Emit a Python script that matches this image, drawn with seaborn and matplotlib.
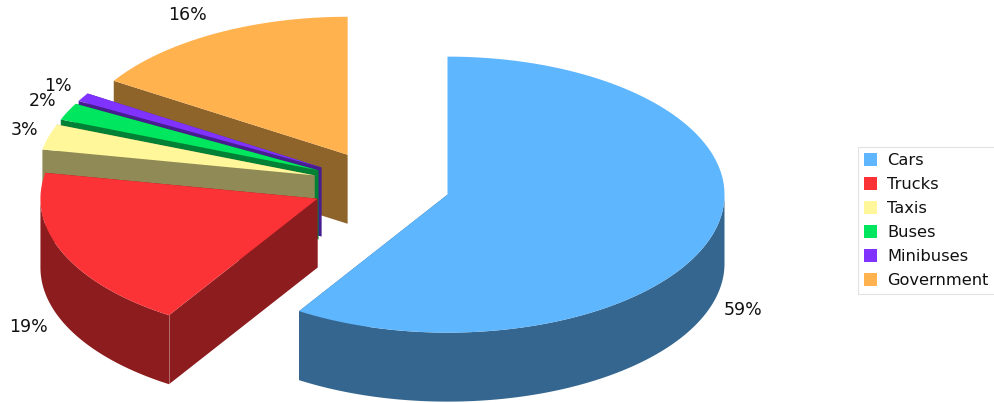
import numpy as np
import seaborn as sns
import matplotlib
matplotlib.use("Agg")
import matplotlib.pyplot as plt
from matplotlib.patches import Patch

# Fleet share by vehicle type
categories = ["Cars", "Trucks", "Taxis", "Buses", "Minibuses", "Government"]
shares = [59, 19, 3, 2, 1, 16]
top_hex = ["#5EB6FF", "#FB3236", "#FFF799", "#00E65E", "#8033FF", "#FFB24D"]

# Pie layout in canvas pixels
CENTER = (381.0, 185.0)
RX, RY = 277.0, 138.0
DEPTH = 69.0
EXPLODE = 0.25
SHADE = 0.56
LABEL_RADIUS = 1.12
# Small shifts that keep the crowded percentage labels apart
label_nudges = [(-2, 3), (-4, -2), (8, 2), (5, 0), (4, 1), (-11, 0)]

sns.set_theme(style="white", font="DejaVu Sans")
palette = sns.color_palette(top_hex)

fig = plt.figure(figsize=(9.95, 4.03), dpi=100)
ax = fig.add_axes([0, 0, 1, 1])
ax.set_xlim(0, 995)
ax.set_ylim(403, 0)
ax.axis("off")


def rim(tip, deg):
    """Point on a wedge's rim; angles run clockwise from twelve o'clock."""
    t = np.radians(deg)
    return tip[0] + RX * np.sin(t), tip[1] - RY * np.cos(t)


def wall(xa, ya, xb, yb, color, z):
    xs = [xa, xb, xb, xa]
    ys = [ya, yb, yb + DEPTH, ya + DEPTH]
    ax.fill(xs, ys, color=color, lw=0, zorder=z)


ends = np.cumsum(shares) / np.sum(shares) * 360.0
starts = np.concatenate([[0.0], ends[:-1]])

# Later wedges sit behind the earlier ones, so paint from the last to the first
for i in range(len(shares) - 1, -1, -1):
    a0, a1 = starts[i], ends[i]
    mid = np.radians((a0 + a1) / 2)
    tip = (CENTER[0] + EXPLODE * RX * np.sin(mid),
           CENTER[1] - EXPLODE * RY * np.cos(mid))
    top = palette[i]
    side = tuple(np.array(top) * SHADE)
    z = 10 + (len(shares) - i) * 3

    # Radial side walls
    for a in (a0, a1):
        wall(tip[0], tip[1], *rim(tip, a), side, z)

    # Curved outer wall, only where it faces the viewer
    lo, hi = max(a0, 90.0), min(a1, 270.0)
    if hi > lo:
        arc = np.linspace(lo, hi, 160)
        ax_, ay_ = rim(tip, arc)
        ax.fill(np.r_[ax_, ax_[::-1]], np.r_[ay_, ay_[::-1] + DEPTH],
                color=side, lw=0, zorder=z)

    # Faint seam where a visible radial wall meets the curved wall
    if 90.0 < a0 < 270.0:
        sx, sy = rim(tip, a0)
        ax.plot([sx, sx], [sy, sy + DEPTH], color="white", alpha=0.35,
                lw=0.7, zorder=z)

    # Top face
    arc = np.linspace(a0, a1, 240)
    tx, ty = rim(tip, arc)
    ax.fill(np.r_[tip[0], tx], np.r_[tip[1], ty], color=top, lw=0, zorder=z + 1)

    # Percentage label outside the rim
    lx = tip[0] + LABEL_RADIUS * RX * np.sin(mid)
    ly = tip[1] - LABEL_RADIUS * RY * np.cos(mid)
    if np.cos(mid) < 0:
        ly += DEPTH
    else:
        ly -= 4
    dx, dy = label_nudges[i]
    ax.text(lx + dx, ly + dy, f"{shares[i]}%", ha="center", va="center",
            fontsize=12.5, color="#111111", zorder=40)

handles = [Patch(facecolor=c, edgecolor="none") for c in palette]
leg = ax.legend(
    handles, categories,
    loc="upper left", bbox_to_anchor=(858 / 995, 1 - 147 / 403),
    borderaxespad=0, fontsize=11.7, frameon=True, fancybox=False,
    edgecolor="#E2E2E2", framealpha=1,
    handlelength=0.8, handleheight=0.8, handletextpad=0.62,
    labelspacing=0.555, borderpad=0.38,
)
leg.get_frame().set_linewidth(0.8)
for t in leg.get_texts():
    t.set_color("#111111")

fig.savefig("out.png", dpi=100, facecolor="white")
